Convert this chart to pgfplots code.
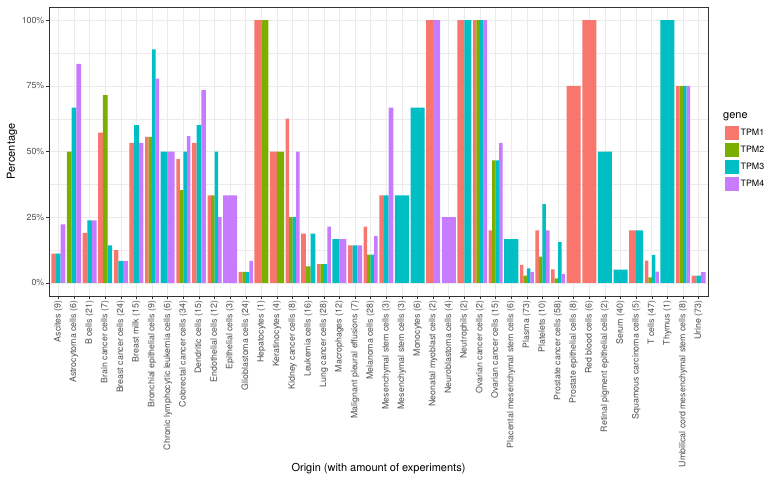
\documentclass[border=0pt]{standalone}
\usepackage{fontspec}
\setmainfont{TeX Gyre Heros}
\usepackage{pgfplots}
\pgfplotsset{compat=1.18}
\definecolor{c1}{HTML}{F8766D}
\definecolor{c2}{HTML}{7CAE00}
\definecolor{c3}{HTML}{00BFC4}
\definecolor{c4}{HTML}{C77CFF}
\definecolor{grey20}{HTML}{333333}
\definecolor{grey30}{HTML}{4D4D4D}
\definecolor{grey92}{HTML}{EBEBEB}
\begin{document}
\begin{tikzpicture}
\begin{axis}[name=ax, scale only axis, width=659pt, height=289pt,
  xmin=0.4, xmax=42.6, ymin=-0.05, ymax=1.05,
  axis line style={draw=grey20, line width=0.6pt},
  xtick={1,...,42},
  xticklabels={Ascites (9),Astrocytoma cells (6),B cells (21),Brain cancer cells (7),Breast cancer cells (24),Breast milk (15),Bronchial epithelial cells (9),Chronic lymphocytic leukemia cells (6),Colorectal cancer cells (34),Dendritic cells (15),Endothelial cells (12),Epithelial cells (3),Glioblastoma cells (24),Hepatocytes (1),Keratinocytes (4),Kidney cancer cells (8),Leukemia cells (16),Lung cancer cells (28),Macrophages (12),Malignant pleural effusions (7),Melanoma cells (28),Mesenchymal stem cells (3),Mesenchymal stem cells (3),Monocytes (6),Neonatal myoblast cells (2),Neuroblastoma cells (4),Neutrophils (2),Ovarian cancer cells (2),Ovarian cancer cells (15),Placental mesenchymal stem cells (6),Plasma (73),Platelets (10),Prostate cancer cells (58),Prostate epithelial cells (8),Red blood cells (6),Retinal pigment epithelial cells (2),Serum (40),Squamous carcinoma cells (5),T cells (47),Thymus (1),Umbilical cord mesenchymal stem cells (8),Urine (73)},
  ytick={0,0.25,0.5,0.75,1},
  yticklabels={0\%,25\%,50\%,75\%,100\%},
  minor ytick={0.125,0.375,0.625,0.875},
  xmajorgrids, ymajorgrids, yminorgrids,
  major grid style={draw=grey92, line width=0.6pt},
  minor grid style={draw=grey92, line width=0.3pt},
  tick style={draw=grey20, line width=0.5pt},
  major tick length=3pt, minor tick length=0pt,
  tick align=outside, tick pos=left,
  /pgf/number format/assume math mode=true,
  x tick label style={rotate=90, anchor=east, font=\fontsize{8.8}{9}\selectfont, text=grey30, inner sep=1.5pt},
  y tick label style={font=\fontsize{8.8}{9}\selectfont, text=grey30, inner sep=1.5pt},
  xlabel={Origin (with amount of experiments)},
  ylabel={Percentage},
  xlabel style={font=\fontsize{11}{12}\selectfont, at={(axis description cs:0.5,-0.5986)}, anchor=center},
  ylabel style={font=\fontsize{11}{12}\selectfont, at={(axis description cs:-0.0561,0.5)}, anchor=center},
  legend style={at={(axis description cs:1.0258,0.588)}, anchor=north west, draw=none, fill=none, inner sep=0pt, font=\fontsize{8.8}{9}\selectfont, row sep=3pt, nodes={inner sep=1.5pt}},
  legend cell align=left,
  legend image code/.code={\fill[#1] (0pt,-7pt) rectangle (14pt,7pt);},
]
% TPM1
\addplot[ybar, bar shift=0pt, bar width=0.225, fill=c1, draw=none, forget plot] coordinates {(6.6625,0.5556)(8.6625,0.4706)(10.6625,0.3333)(12.6625,0.0417)(15.6625,0.625)(17.6625,0.0714)(20.6625,0.2143)(27.6625,1)(28.6625,0.2)(30.6625,0.0685)(31.6625,0.2)(32.6625,0.0517)(38.6625,0.0851)(40.6625,0.75)};
\addplot[ybar, bar shift=0pt, bar width=0.3, fill=c1, draw=none, forget plot] coordinates {(0.7,0.1111)(2.7,0.1905)(3.7,0.5714)(4.7,0.125)(5.7,0.5333)(9.7,0.5333)(16.7,0.1875)(19.7,0.1429)(21.7,0.3333)(41.7,0.0274)};
\addplot[ybar, bar shift=0pt, bar width=0.45, fill=c1, draw=none, forget plot] coordinates {(13.775,1)(14.775,0.5)(24.775,1)(26.775,1)(37.775,0.2)};
\addplot[ybar, bar shift=0pt, bar width=0.9, fill=c1, draw=none, forget plot] coordinates {(34,0.75)(35,1)};
% TPM2
\addplot[ybar, bar shift=0pt, bar width=0.225, fill=c2, draw=none, forget plot] coordinates {(6.8875,0.5556)(8.8875,0.3529)(10.8875,0.3333)(12.8875,0.0417)(15.8875,0.25)(17.8875,0.0714)(20.8875,0.1071)(27.8875,1)(28.8875,0.4667)(30.8875,0.0274)(31.8875,0.1)(32.8875,0.0172)(38.8875,0.0213)(40.8875,0.75)};
\addplot[ybar, bar shift=0pt, bar width=0.3, fill=c2, draw=none, forget plot] coordinates {(1.7,0.5)(4.0,0.7143)(17.0,0.0625)};
\addplot[ybar, bar shift=0pt, bar width=0.45, fill=c2, draw=none, forget plot] coordinates {(14.225,1)(15.225,0.5)};
% TPM3
\addplot[ybar, bar shift=0pt, bar width=0.225, fill=c3, draw=none, forget plot] coordinates {(7.1125,0.8889)(9.1125,0.5)(11.1125,0.5)(13.1125,0.0417)(16.1125,0.25)(18.1125,0.0714)(21.1125,0.1071)(28.1125,1)(29.1125,0.4667)(31.1125,0.0548)(32.1125,0.3)(33.1125,0.1552)(39.1125,0.1064)(41.1125,0.75)};
\addplot[ybar, bar shift=0pt, bar width=0.3, fill=c3, draw=none, forget plot] coordinates {(1.0,0.1111)(2.0,0.6667)(3.0,0.2381)(4.3,0.1429)(5.0,0.0833)(6.0,0.6)(10.0,0.6)(17.3,0.1875)(20.0,0.1429)(22.0,0.3333)(42.0,0.0274)};
\addplot[ybar, bar shift=0pt, bar width=0.45, fill=c3, draw=none, forget plot] coordinates {(7.775,0.5)(18.775,0.1667)(27.225,1)(38.225,0.2)};
\addplot[ybar, bar shift=0pt, bar width=0.9, fill=c3, draw=none, forget plot] coordinates {(23,0.3333)(24,0.6667)(30,0.1667)(36,0.5)(37,0.05)(40,1)};
% TPM4
\addplot[ybar, bar shift=0pt, bar width=0.225, fill=c4, draw=none, forget plot] coordinates {(7.3375,0.7778)(9.3375,0.5588)(11.3375,0.25)(13.3375,0.0833)(16.3375,0.5)(18.3375,0.2143)(21.3375,0.1786)(28.3375,1)(29.3375,0.5333)(31.3375,0.0411)(32.3375,0.2)(33.3375,0.0345)(39.3375,0.0426)(41.3375,0.75)};
\addplot[ybar, bar shift=0pt, bar width=0.3, fill=c4, draw=none, forget plot] coordinates {(1.3,0.2222)(2.3,0.8333)(3.3,0.2381)(5.3,0.0833)(6.3,0.5333)(10.3,0.7333)(20.3,0.1429)(22.3,0.6667)(42.3,0.0411)};
\addplot[ybar, bar shift=0pt, bar width=0.45, fill=c4, draw=none, forget plot] coordinates {(8.225,0.5)(19.225,0.1667)(25.225,1)};
\addplot[ybar, bar shift=0pt, bar width=0.9, fill=c4, draw=none, forget plot] coordinates {(12,0.3333)(26,0.25)};
\addlegendimage{fill=c1, draw=none}\addlegendentry{TPM1}
\addlegendimage{fill=c2, draw=none}\addlegendentry{TPM2}
\addlegendimage{fill=c3, draw=none}\addlegendentry{TPM3}
\addlegendimage{fill=c4, draw=none}\addlegendentry{TPM4}
\end{axis}
\node[anchor=west, font=\fontsize{11}{12}\selectfont, inner sep=0pt] at ([xshift=15pt,yshift=-110pt]ax.north east) {gene};
\pgfresetboundingbox
\path ([xshift=-49pt,yshift=-186pt]ax.south west) rectangle ++(771pt,482pt);
\end{tikzpicture}
\end{document}
